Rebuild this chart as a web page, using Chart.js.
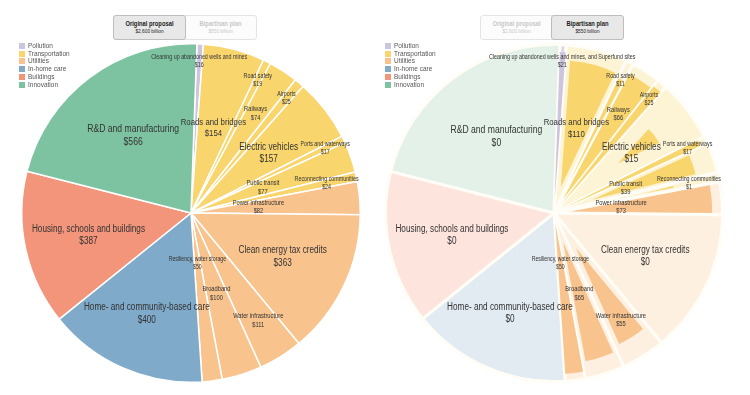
<!DOCTYPE html>
<html lang="en">
<head>
<meta charset="UTF-8">
<title>Original proposal vs bipartisan plan</title>
<style>
  body { margin: 0; background: #fff; font-family: "Liberation Sans", sans-serif; }
  #wrap { position: relative; width: 750px; height: 395px; overflow: hidden; }
  .chart { position: absolute; top: 40px; }
  .toggle { position: absolute; top: 15px; height: 23px; display: flex; border: 1px solid #e4e4e4; border-radius: 3px; background: #fcfcfc; }
  .toggle div { width: 71px; text-align: center; color: #c8c8c8; }
  .toggle div.on { background: #e8e8e8; border: 1px solid #bdbdbd; border-radius: 3px; color: #222; margin: -1px; }
  .toggle b { display: block; font-size: 6.6px; margin-top: 4px; transform: scaleX(0.88); }
  .toggle span { display: block; font-size: 5.3px; margin-top: 0.5px; transform: scaleX(0.9); }
  .legend { position: absolute; top: 42px; font-size: 6.5px; color: #555; line-height: 7.7px; }
  .legend i { display: inline-block; width: 6px; height: 6px; margin-right: 3px; vertical-align: -1px; }
</style>
</head>
<body>
<div id="wrap">
  <div class="toggle" style="left:113px"><div class="on"><b>Original proposal</b><span>$2,600 billion</span></div><div><b>Bipartisan plan</b><span>$550 billion</span></div></div>
  <div class="toggle" style="left:480px"><div><b>Original proposal</b><span>$2,600 billion</span></div><div class="on"><b>Bipartisan plan</b><span>$550 billion</span></div></div>
  <canvas id="left" class="chart" width="380" height="350" style="left:0px"></canvas>
  <canvas id="right" class="chart" width="380" height="350" style="left:363px"></canvas>
  <div class="legend" id="legL" style="left:19px"></div>
  <div class="legend" id="legR" style="left:385px"></div>
</div>
<script src="https://cdn.jsdelivr.net/npm/chart.js"></script>
<script>
// groups
var groups = ['Pollution', 'Transportation', 'Utilities', 'In-home care', 'Buildings', 'Innovation'];
var groupColors = ['#cdc5df', '#f9d56e', '#f8c38d', '#7faac9', '#f3957b', '#7ec3a1'];
var groupLight = ['#ddd6ea', '#fdf4d6', '#fef0e0', '#e3ebf2', '#fde5de', '#e3f1e9'];

// cells (billions of dollars)
var items = ['Cleaning up abandoned wells and mines', 'Roads and bridges', 'Road safety', 'Railways', 'Airports',
  'Electric vehicles', 'Ports and waterways', 'Public transit', 'Reconnecting communities',
  'Power infrastructure', 'Clean energy tax credits', 'Water infrastructure', 'Broadband', 'Resiliency, water storage',
  'Home- and community-based care', 'Housing, schools and buildings', 'R&D and manufacturing'];
var itemsBipartisan = items.slice();
itemsBipartisan[0] = 'Cleaning up abandoned wells and mines, and Superfund sites';
var itemGroup = [0, 1, 1, 1, 1, 1, 1, 1, 1, 2, 2, 2, 2, 2, 3, 4, 5];
var original   = [16, 154, 19, 74, 25, 157, 17, 77, 24, 82, 363, 111, 100, 50, 400, 387, 566];
var bipartisan = [21, 110, 11, 66, 25, 15, 17, 39, 1, 73, 0, 55, 65, 50, 0, 0, 0];

// label placement (fraction of radius) and font size
var labelR    = [0.9, 0.52, 0.88, 0.7, 0.88, 0.58, 0.88, 0.45, 0.82, 0.4, 0.6, 0.75, 0.5, 0.3, 0.65, 0.62, 0.57];
var labelSize = [6.5, 9.5, 6.5, 7, 6.5, 10, 6.5, 7, 6.5, 7, 10, 7, 7, 6.3, 10, 10, 10.5];

// legends
['legL', 'legR'].forEach(function(id) {
  document.getElementById(id).innerHTML = groups.map(function(g, i) {
    return '<div><i style="background:' + groupColors[i] + '"></i>' + g + '</div>';
  }).join('');
});

var cellPlugin = {
  id: 'cells',
  afterDatasetsDraw: function(chart, args, opts) {
    var ctx = chart.ctx;
    var meta = chart.getDatasetMeta(0);
    // inner (shrunken) cells for the bipartisan values
    meta.data.forEach(function(arc, i) {
      if (!opts.inner || !(opts.inner[i] > 0)) return;
      var p = arc.getProps(['x', 'y', 'startAngle', 'endAngle', 'outerRadius'], true);
      var mid = (p.startAngle + p.endAngle) / 2;
      var th = p.endAngle - p.startAngle;
      var s = Math.min(1, Math.sqrt(opts.inner[i] / original[i])) * 0.9;
      var rc = 4 * p.outerRadius * Math.sin(th / 2) / (3 * th);
      var cx = p.x + Math.cos(mid) * rc, cy = p.y + Math.sin(mid) * rc;
      ctx.save();
      ctx.translate(cx, cy); ctx.scale(s, s); ctx.translate(-cx, -cy);
      ctx.beginPath();
      ctx.moveTo(p.x, p.y);
      ctx.arc(p.x, p.y, p.outerRadius - 2, p.startAngle, p.endAngle);
      ctx.closePath();
      ctx.fillStyle = groupColors[itemGroup[i]];
      ctx.fill();
      ctx.restore();
    });
    // labels
    meta.data.forEach(function(arc, i) {
      var p = arc.getProps(['x', 'y', 'startAngle', 'endAngle', 'outerRadius'], true);
      var mid = (p.startAngle + p.endAngle) / 2;
      var r = p.outerRadius * labelR[i];
      var x = p.x + Math.cos(mid) * r, y = p.y + Math.sin(mid) * r;
      var fs = labelSize[i];
      ctx.save();
      ctx.translate(x, y);
      ctx.scale(0.82, 1);
      ctx.fillStyle = '#333';
      ctx.textAlign = 'center';
      ctx.textBaseline = 'middle';
      ctx.font = fs + 'px "Liberation Sans", sans-serif';
      ctx.fillText(opts.names[i], 0, -fs * 0.62);
      ctx.fillText('$' + opts.values[i], 0, fs * 0.62);
      ctx.restore();
    });
  }
};

function makeChart(id, colors, border, bw, names, values, inner) {
  return new Chart(document.getElementById(id), {
    type: 'pie',
    data: {
      labels: items,
      datasets: [{
        data: original,
        backgroundColor: colors,
        borderColor: border,
        borderWidth: bw
      }]
    },
    options: {
      responsive: false,
      animation: false,
      rotation: 2,
      layout: { padding: { left: 21, right: 19, top: 3, bottom: 7 } },
      plugins: {
        legend: { display: false },
        tooltip: { enabled: false },
        cells: { names: names, values: values, inner: inner }
      }
    },
    plugins: [cellPlugin]
  });
}

makeChart('left', itemGroup.map(function(g) { return groupColors[g]; }), '#ffffff', 1.5, items, original, null);
makeChart('right', itemGroup.map(function(g) { return groupLight[g]; }), '#fffdf6', 3, itemsBipartisan, bipartisan, bipartisan);
</script>
</body>
</html>
